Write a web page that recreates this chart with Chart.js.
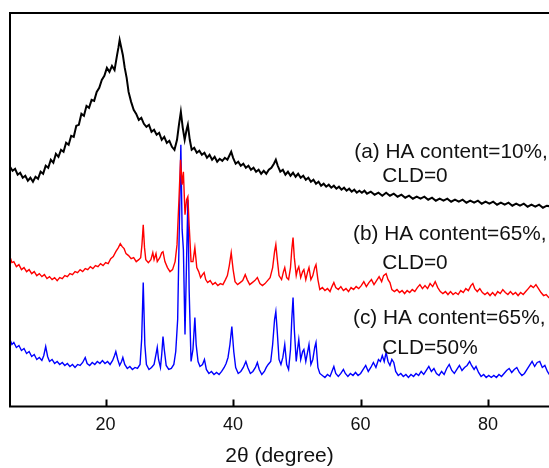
<!DOCTYPE html>
<html>
<head>
<meta charset="utf-8">
<script src="https://cdn.jsdelivr.net/npm/chart.js@4"></script>
<style>
  html, body { margin: 0; padding: 0; background: #fff; }
  #wrap { width: 549px; height: 468px; }
</style>
</head>
<body>
<div id="wrap"><canvas id="xrd"></canvas></div>
<script>
// XRD patterns, 2-theta (degree) vs intensity (a.u.)
const xTicks = [20, 40, 60, 80];
const xMin = 5, xMax = 89.55;   // frame runs off the right edge in the original

// (a) HA content=10%, CLD=0
const curveA = [
  [5.0,240],[5.4,236],[5.8,238],[6.2,232],[6.6,234],[7.0,229],[7.4,231],[7.8,226],[8.2,229],[8.6,225],
  [9.0,230],[9.4,228],[9.8,235],[10.2,233],[10.6,241],[11.0,239],[11.4,247],[11.8,244],[12.2,253],[12.6,250],
  [13.0,257],[13.4,255],[13.8,264],[14.2,262],[14.6,271],[15.0,270],[15.4,281],[15.8,282],[16.2,293],[16.6,291],
  [17.0,301],[17.4,299],[17.8,307],[18.2,306],[18.6,315],[19.0,319],[19.4,327],[19.8,331],[20.2,339],[20.6,335],
  [21.0,341],[21.4,337],[21.8,352],[22.0,359],[22.2,367],[22.4,361],[22.7,352],[23.0,339],[23.3,329],[23.6,315],
  [24.0,305],[24.4,297],[24.8,293],[25.2,287],[25.6,289],[26.0,283],[26.4,280],[26.8,282],[27.2,275],[27.6,277],
  [28.0,272],[28.4,274],[28.8,267],[29.2,270],[29.6,264],[30.0,266],[30.4,260],[30.8,257],[31.2,267],[31.5,282],
  [31.8,295],[32.1,279],[32.4,267],[32.7,277],[32.9,282],[33.2,267],[33.5,257],[33.9,259],[34.3,254],[34.7,256],
  [35.1,252],[35.5,254],[35.9,249],[36.3,252],[36.7,247],[37.1,250],[37.5,245],[37.9,248],[38.3,246],[38.7,249],
  [39.1,247],[39.4,251],[39.7,255],[40.0,249],[40.4,243],[40.8,245],[41.2,241],[41.6,243],[42.0,239],[42.4,241],
  [42.8,237],[43.2,239],[43.6,235],[44.0,237],[44.4,233],[44.8,236],[45.2,233],[45.6,237],[46.0,239],[46.4,243],
  [46.7,247],[47.0,241],[47.4,235],[47.8,237],[48.2,232],[48.6,235],[49.0,231],[49.4,234],[49.8,230],[50.2,233],
  [50.6,229],[51.0,231],[51.4,227],[51.8,229],[52.2,225],[52.6,227],[53.0,223],[53.4,225],[53.8,221],[54.2,223],
  [54.6,220],[55.0,222],[55.4,219],[55.8,221],[56.2,218],[56.6,220],[57.0,217],[57.4,219],[57.8,216],[58.2,218],
  [58.6,215],[59.0,217],[59.4,214],[59.8,216],[60.2,214],[60.6,216],[61.0,213],[61.6,215],[62.2,212],[62.8,214],
  [63.4,211],[64.0,214],[64.6,211],[65.2,213],[65.8,210],[66.4,212],[67.0,209],[67.6,211],[68.2,208],[68.8,210],
  [69.4,208],[70.0,210],[70.6,207],[71.2,209],[71.8,206],[72.4,208],[73.0,206],[73.6,208],[74.2,205],[74.8,207],
  [75.4,205],[76.0,207],[76.6,204],[77.2,206],[77.8,204],[78.4,206],[79.0,203],[79.6,205],[80.2,203],[80.8,205],
  [81.4,202],[82.0,204],[82.6,202],[83.2,204],[83.8,201],[84.4,203],[85.0,201],[85.6,203],[86.2,200],[86.8,202],
  [87.4,200],[88.0,202],[88.6,199],[89.2,201],[90.0,200]
];

// (b) HA content=65%, CLD=0
const curveB = [
  [5.0,150],[5.3,144],[5.6,145],[6.0,140],[6.4,142],[6.8,137],[7.2,139],[7.6,135],[8.0,137],[8.4,133],
  [8.8,135],[9.2,131],[9.6,133],[10.0,130],[10.4,132],[10.8,128],[11.2,130],[11.6,127],[12.0,129],[12.4,126],
  [12.8,129],[13.2,128],[13.6,131],[14.0,130],[14.4,133],[14.8,132],[15.2,135],[15.6,134],[16.0,137],[16.4,135],
  [16.8,138],[17.2,137],[17.6,140],[18.0,138],[18.4,141],[18.8,140],[19.2,143],[19.6,141],[20.0,144],[20.4,143],
  [20.8,148],[21.2,150],[21.6,155],[22.0,159],[22.3,163],[22.6,160],[22.9,158],[23.2,153],[23.6,151],[24.0,148],
  [24.4,149],[24.8,145],[25.2,147],[25.5,149],[25.7,162],[25.9,182],[26.1,159],[26.3,147],[26.7,144],[27.1,147],
  [27.4,154],[27.6,147],[27.9,153],[28.1,145],[28.5,149],[28.8,154],[29.0,155],[29.3,145],[29.7,139],[30.1,135],
  [30.5,137],[30.9,145],[31.2,162],[31.5,207],[31.75,247],[32.0,222],[32.2,235],[32.45,192],[32.7,207],[32.9,210],
  [33.1,182],[33.4,145],[33.7,145],[34.0,159],[34.3,139],[34.6,135],[34.9,129],[35.2,132],[35.45,134],[35.7,127],
  [36.0,124],[36.4,126],[36.8,122],[37.2,124],[37.6,121],[38.0,123],[38.4,122],[38.8,127],[39.1,131],[39.4,141],
  [39.7,154],[40.0,137],[40.3,125],[40.7,122],[41.1,124],[41.5,126],[41.9,132],[42.2,127],[42.6,122],[43.0,124],
  [43.4,126],[43.8,129],[44.2,123],[44.6,121],[45.0,123],[45.4,126],[45.8,129],[46.2,139],[46.5,155],[46.7,162],
  [46.9,149],[47.2,131],[47.6,127],[47.9,135],[48.1,139],[48.4,129],[48.7,127],[49.0,139],[49.2,157],[49.4,169],
  [49.6,149],[49.9,131],[50.1,137],[50.3,140],[50.6,129],[50.9,135],[51.1,137],[51.4,127],[51.7,135],[51.9,139],
  [52.2,127],[52.5,131],[52.8,139],[53.0,142],[53.3,127],[53.6,117],[54.0,119],[54.4,116],[54.8,118],[55.2,115],
  [55.5,120],[55.8,124],[56.1,119],[56.5,117],[56.9,120],[57.3,116],[57.7,118],[58.1,115],[58.5,119],[58.9,117],
  [59.3,120],[59.7,118],[60.1,121],[60.5,125],[60.9,120],[61.3,124],[61.7,127],[62.1,122],[62.5,126],[62.9,130],
  [63.3,125],[63.6,131],[64.0,133],[64.3,127],[64.6,124],[64.9,117],[65.3,115],[65.7,117],[66.1,114],[66.5,116],
  [66.9,113],[67.3,116],[67.7,114],[68.1,117],[68.5,115],[68.9,119],[69.3,122],[69.7,118],[70.1,121],[70.5,118],
  [70.9,123],[71.3,120],[71.7,125],[72.1,119],[72.5,115],[72.9,113],[73.3,115],[73.7,112],[74.1,115],[74.5,112],
  [74.9,114],[75.3,112],[75.7,116],[76.1,114],[76.5,118],[76.9,116],[77.3,121],[77.6,123],[77.9,118],[78.3,115],
  [78.7,118],[79.1,114],[79.5,112],[79.9,114],[80.3,111],[80.7,114],[81.1,111],[81.5,115],[81.9,113],[82.3,117],
  [82.7,114],[83.1,112],[83.5,115],[83.9,112],[84.3,114],[84.7,111],[85.1,114],[85.5,112],[85.9,115],[86.3,118],
  [86.7,121],[87.1,119],[87.5,122],[87.9,118],[88.3,114],[88.7,111],[89.1,112],[89.5,109],[90.0,110]
];

// (c) HA content=65%, CLD=50%
const curveC = [
  [5.0,67],[5.3,62],[5.6,64],[6.0,59],[6.4,61],[6.8,56],[7.2,58],[7.6,53],[8.0,55],[8.4,50],
  [8.8,52],[9.2,47],[9.6,49],[10.0,46],[10.3,51],[10.6,60],[10.9,50],[11.2,45],[11.6,47],[12.0,43],
  [12.4,45],[12.8,42],[13.2,44],[13.6,41],[14.0,43],[14.4,40],[14.8,42],[15.2,39],[15.6,42],[16.0,41],
  [16.4,44],[16.8,49],[17.1,43],[17.5,41],[17.9,44],[18.3,42],[18.7,45],[19.1,43],[19.5,46],[19.9,43],
  [20.3,45],[20.7,42],[21.1,46],[21.4,51],[21.6,55],[21.9,47],[22.2,41],[22.5,45],[22.7,49],[23.0,42],
  [23.4,38],[23.8,40],[24.2,37],[24.6,39],[25.0,38],[25.4,42],[25.65,67],[25.9,124],[26.15,62],[26.4,42],
  [26.8,37],[27.2,39],[27.6,42],[27.9,52],[28.1,59],[28.3,47],[28.6,39],[28.8,52],[29.0,70],[29.2,57],
  [29.5,41],[29.9,37],[30.3,38],[30.7,42],[31.0,55],[31.3,87],[31.55,177],[31.8,262],[32.0,177],[32.2,157],
  [32.45,72],[32.7,147],[32.9,207],[33.1,117],[33.4,45],[33.7,57],[34.0,89],[34.2,62],[34.5,45],[34.8,40],
  [35.2,42],[35.5,47],[35.8,37],[36.2,33],[36.6,35],[37.0,32],[37.4,34],[37.8,32],[38.2,35],[38.6,39],
  [38.9,43],[39.2,49],[39.5,62],[39.8,80],[40.1,55],[40.4,39],[40.8,33],[41.2,35],[41.6,39],[42.0,45],
  [42.3,39],[42.7,33],[43.1,35],[43.5,39],[43.8,44],[44.1,37],[44.5,32],[44.9,35],[45.2,39],[45.5,42],
  [45.9,45],[46.2,62],[46.5,87],[46.7,95],[46.9,77],[47.2,47],[47.5,42],[47.8,49],[48.1,62],[48.4,42],
  [48.7,37],[49.0,57],[49.2,87],[49.4,109],[49.6,77],[49.9,45],[50.1,57],[50.3,67],[50.6,47],[50.9,55],
  [51.1,57],[51.4,45],[51.7,55],[51.9,62],[52.2,42],[52.5,47],[52.8,59],[53.0,64],[53.3,39],[53.6,33],
  [54.0,31],[54.4,29],[54.8,32],[55.2,30],[55.5,35],[55.8,40],[56.1,33],[56.5,30],[56.9,33],[57.3,37],
  [57.6,33],[58.0,30],[58.4,33],[58.8,31],[59.2,34],[59.6,31],[60.0,33],[60.4,37],[60.8,41],[61.2,35],
  [61.6,39],[62.0,44],[62.4,39],[62.8,47],[63.1,45],[63.4,51],[63.7,45],[64.0,54],[64.3,45],[64.6,41],
  [64.9,47],[65.2,44],[65.5,35],[65.9,31],[66.3,33],[66.7,30],[67.1,32],[67.5,29],[67.9,32],[68.3,30],
  [68.7,33],[69.1,31],[69.5,35],[69.9,32],[70.3,36],[70.7,40],[71.1,35],[71.5,38],[71.9,33],[72.3,31],
  [72.7,35],[73.1,32],[73.5,38],[73.9,42],[74.3,36],[74.7,33],[75.1,37],[75.5,41],[75.9,36],[76.3,39],
  [76.7,41],[77.1,45],[77.4,41],[77.8,37],[78.1,40],[78.5,34],[78.9,30],[79.3,32],[79.7,29],[80.1,31],
  [80.5,29],[80.9,31],[81.3,29],[81.7,32],[82.1,30],[82.5,33],[82.9,36],[83.3,38],[83.7,34],[84.1,37],
  [84.5,39],[84.9,34],[85.3,31],[85.7,33],[86.1,37],[86.5,41],[86.9,45],[87.3,40],[87.7,44],[88.1,45],
  [88.5,39],[88.9,41],[89.3,35],[89.7,31],[90.0,29]
];

// text labels beside the curves: [text, 2theta, intensity]
const notes = [
  ['(a) HA content=10%,', 59.0, 255],
  ['CLD=0', 63.4, 230],
  ['(b) HA content=65%,', 58.8, 172],
  ['CLD=0', 63.4, 143],
  ['(c) HA content=65%,', 58.8, 88],
  ['CLD=50%', 63.4, 58]
];

const FONT = '"Liberation Sans", Arial, sans-serif';

function toPoints(arr) {
  return arr.map(p => ({ x: p[0], y: p[1] }));
}

// frame (no right side, it is cut off), inward ticks and the labels
const decorPlugin = {
  id: 'decor',
  afterDatasetsDraw(chart) {
    const ctx = chart.ctx;
    const area = chart.chartArea;
    const xs = chart.scales.x;
    const ys = chart.scales.y;
    ctx.save();
    ctx.strokeStyle = '#000';
    ctx.lineWidth = 2;
    ctx.beginPath();
    ctx.moveTo(chart.width, area.top);
    ctx.lineTo(area.left, area.top);
    ctx.lineTo(area.left, area.bottom);
    ctx.lineTo(chart.width, area.bottom);
    xTicks.forEach(v => {
      const px = Math.round(xs.getPixelForValue(v)) + 0.5;
      ctx.moveTo(px, area.bottom);
      ctx.lineTo(px, area.bottom - 7);
    });
    ctx.stroke();

    ctx.fillStyle = '#111';
    ctx.font = '20.8px ' + FONT;
    ctx.textBaseline = 'middle';
    ctx.textAlign = 'left';
    notes.forEach(n => {
      ctx.fillText(n[0], xs.getPixelForValue(n[1]), ys.getPixelForValue(n[2]));
    });
    ctx.restore();
  }
};

new Chart(document.getElementById('xrd'), {
  type: 'line',
  data: {
    datasets: [
      { data: toPoints(curveA), borderColor: '#000000', borderWidth: 2 },
      { data: toPoints(curveB), borderColor: '#ff0000', borderWidth: 1.4 },
      { data: toPoints(curveC), borderColor: '#0000ff', borderWidth: 1.4 }
    ]
  },
  options: {
    responsive: true,
    maintainAspectRatio: false,
    animation: false,
    layout: { padding: { top: 13, left: 10, right: 0, bottom: 1 } },
    elements: { point: { radius: 0 }, line: { tension: 0 } },
    plugins: { legend: { display: false }, tooltip: { enabled: false } },
    scales: {
      x: {
        type: 'linear',
        min: xMin,
        max: xMax,
        afterBuildTicks: s => { s.ticks = xTicks.map(v => ({ value: v })); },
        grid: { display: false, drawTicks: false },
        border: { display: false },
        ticks: { padding: 8, color: '#111', font: { family: FONT, size: 18 } },
        title: {
          display: true,
          text: '2θ (degree)',
          color: '#111',
          font: { family: FONT, size: 21, lineHeight: 1.0 },
          padding: { top: 2, bottom: 0 }
        }
      },
      y: {
        display: false,
        min: 0,
        max: 394
      }
    }
  },
  plugins: [decorPlugin]
});
</script>
</body>
</html>
